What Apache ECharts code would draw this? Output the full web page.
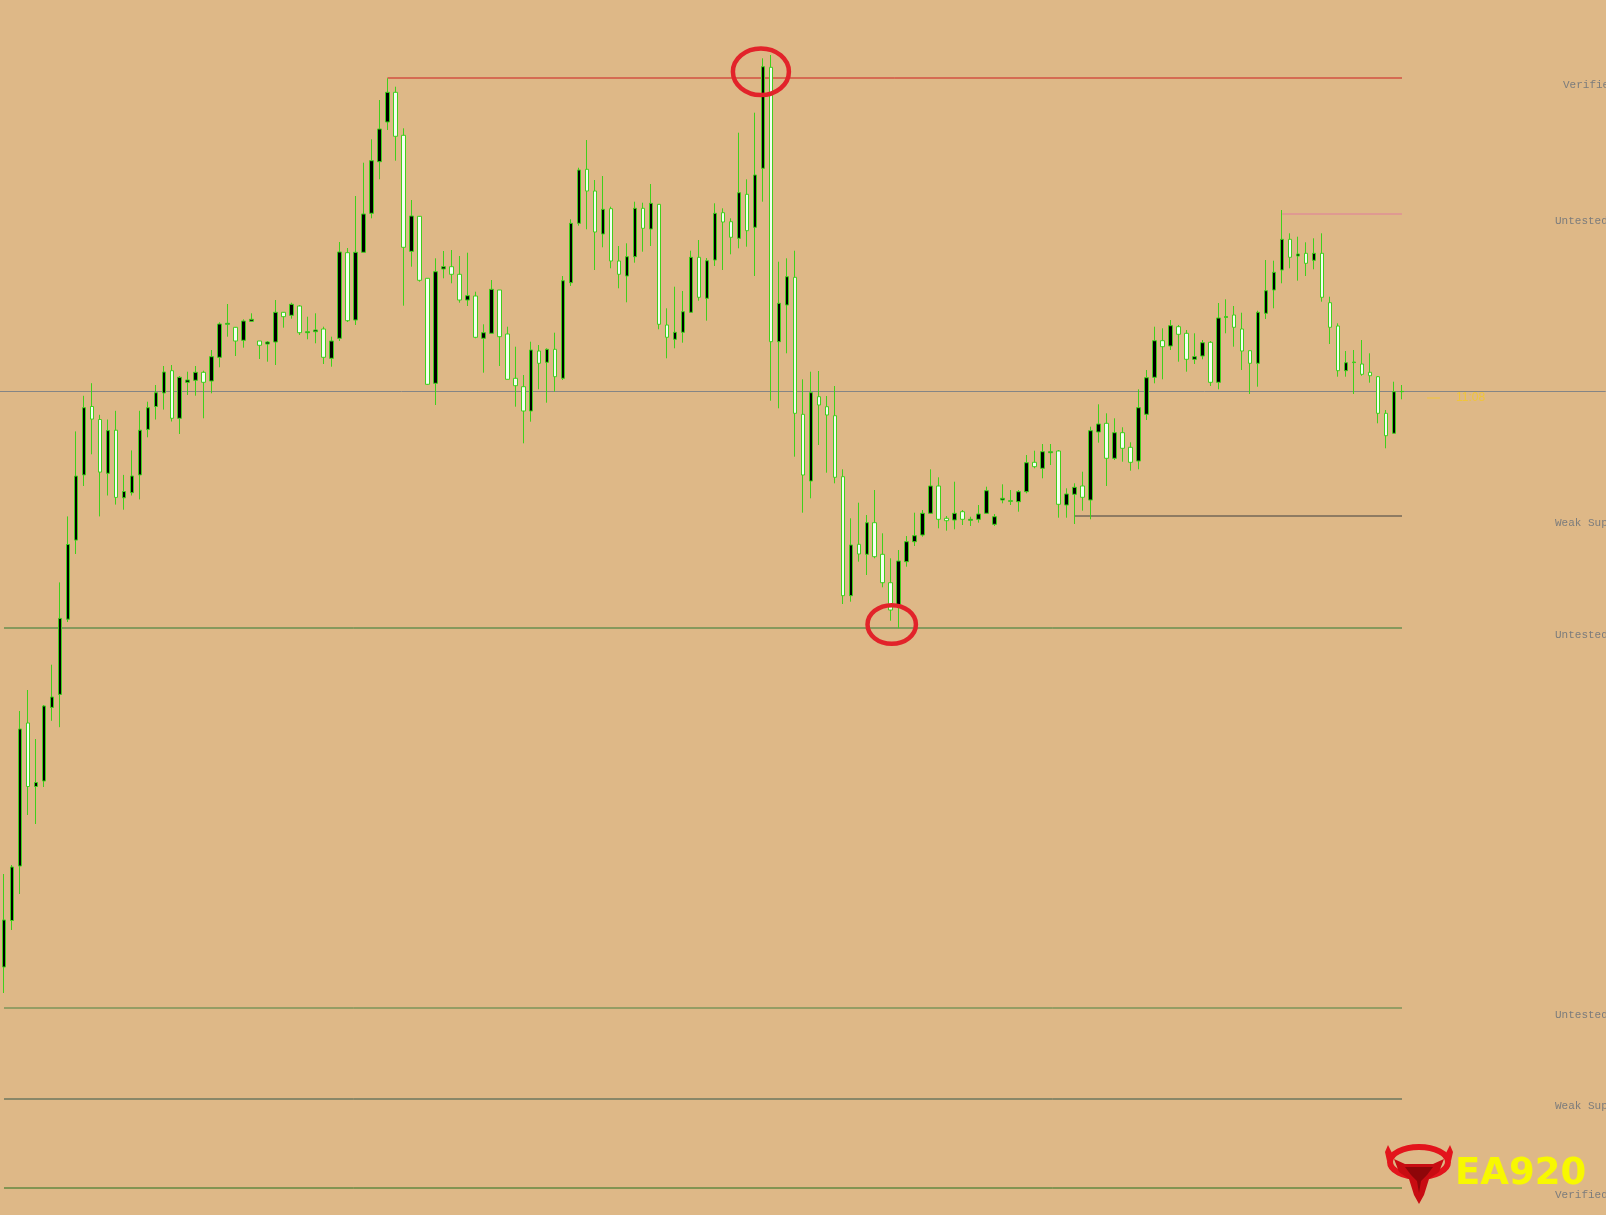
<!DOCTYPE html>
<html><head><meta charset="utf-8">
<script src="https://cdn.jsdelivr.net/npm/echarts@6/dist/echarts.min.js"></script>
<style>html,body{margin:0;padding:0;background:#DEB887;overflow:hidden}#chart{width:1606px;height:1215px;}</style>
</head><body><div id="chart"></div>
<script>
// ---- candle data (price units) ----
const opens = [
248,294.5,349,492,428.5,434,507.6,520.6,595.8,674.9,
740.1,808.5,795.5,741.7,784.8,717.2,722.3,740.1,785.6,808.5,
822,844.3,796.7,832.7,834.7,842.7,834,857.7,890.7,887.7,
874.7,893.7,874,871,873,902.7,899.7,909,882.3,883.3,
886,856.7,876.7,962.3,895,962.7,1001.7,1053.3,1093,1122.7,
1079.7,963.7,998.7,936.7,831.7,946,948.3,940.7,915,919,
876.7,881.7,925,881,836.7,828.3,804,864,852.7,865.7,
836.7,932.3,991.7,1045.7,1024,981,1006.3,954,939,958.3,
1006.7,986,1010.7,890,875.7,882.7,902.7,957.7,916.7,955,
1002.3,993.3,976.7,1020.7,987.7,1046.7,1147.7,873.3,910,937.7,
800.7,734,818.3,808.3,799.3,738.3,619.3,670.7,660.7,692.3,
660.7,632.3,608.3,653.3,673.3,680,701.7,729,696.7,695,
703.3,694.7,695.7,701.7,690.7,715,713.7,713.3,723.3,752.7,
746.7,762.3,764,710,720.7,729,715,783,791.7,756.7,
782.3,767.7,754,800.7,837.7,874.3,869,888.3,881.7,855.7,
859,872.7,832.7,897.5,900,886,864.3,851.7,901.7,925,
945,975.7,959,961.7,954.7,961.7,912.3,889,844.3,852.4,
851,842.7,838.3,801.7,781.7,823.3
];
const closes = [
295,348,486,428.5,432.5,509,518,596.6,670.5,738.9,
807.3,795.9,742.9,784.4,717.6,723.5,739,784.8,807.3,822.3,
843,796.7,837.7,835,842.7,832.7,858.3,891,891.7,874,
894,895.7,869.7,873,902.7,898.3,910.7,882.3,883.3,885,
857.7,874,963,894.3,962.7,1001,1054.3,1086,1122.7,1078.7,
967.7,999,934.7,830.7,943.3,948.3,940.7,915,919.3,877.7,
882.3,925.7,878.3,835.7,829.3,804,865,851.7,865.7,838.3,
934.3,991.7,1045,1024,983,1005.7,954,940.7,958.3,1006.7,
986.7,1011.7,890.7,877.7,882.7,903.3,957.7,917.7,954.3,1001.7,
993,977.7,1022.3,984.3,1040,1148.3,873.3,911.7,938.3,801.7,
740,822.3,810,800,737.7,619.3,670,661,692.3,658.3,
632.3,605,654,673.3,679.3,701.7,729,695.7,694.3,701.7,
695.7,695.7,701,724.3,698.3,716.7,714.3,723.3,752.3,748.3,
763.3,763.3,710.7,721,727.7,717.7,784.3,791,756.7,782.3,
766.7,752.7,807.3,837.3,874.3,868.3,889.3,880.7,855.7,858.3,
872.3,832.7,897,898.5,887.7,864,851.7,902.7,924.3,942.7,
975.7,957.7,961,951.7,961.7,917.7,887.7,844.3,852.3,853,
840.7,839.3,801.7,779.3,823.3,823.6
];
const lows = [
222,285,321,400,391,428,494.2,487.8,593,661,
729,760.7,698.6,719.5,710.4,705.3,719.5,715.6,777.7,795.5,
805.4,793.5,781,820,819.3,796.7,821.7,847.7,878.3,859,
867.3,893,856,853.3,850,887.3,896.3,880,875.7,871.7,
851,848.3,874,893,890,962.7,996.7,1035.7,1085,1054.3,
909.3,948.3,933.3,830,810,936.7,931.7,912.3,909,876.7,
842.3,881.7,849,835.7,808.3,771.7,793.3,825.7,812.3,823.3,
835,929,989.3,985.7,945,967.7,946.7,926.7,912.7,952.3,
963.3,969,885.7,856.7,866.7,872.3,902.3,914.3,894.3,949,
945,960.7,966.7,968.3,939,1013.3,814.3,806.7,861.7,758.3,
702.3,716.7,770,742.3,731.7,611,613.3,653.3,640,656.7,
627.7,594.3,586.7,648.3,669,678.3,701,686.7,684.3,685.7,
690,689,692.3,701,689,711.7,710,703.3,721.7,746.7,
736.7,750,697.3,697.3,691,704.3,695.7,772.3,729,755,
753.3,744.3,745.7,795,831.7,835.7,865,853.3,843.3,851,
855.7,829,825.7,881.7,868.3,845,821,828.3,896,906.7,
931.7,946.7,934.3,939,945.7,913.3,871,838.3,838.3,821,
839.3,832.3,791.7,766.7,781.7,815.7
];
const highs = [
341,350,504,525,476,510,550.3,632.6,698.6,783.6,
819.2,831.8,800.2,795.5,804.2,740.1,764.6,804.2,813.3,830,
849,850,839,843.3,849,844.3,865,892.7,911,888,
895.7,901.7,874,874,915,903,912.3,910,898.3,901.7,
888.3,878.3,973,967,1019,1052.3,1075.7,1115,1136.7,1128.3,
1086.7,1015,999,937,956.7,964,965,959,962.3,923.3,
890.7,935,925,888.3,868.3,840,873.3,870,866.7,882.3,
939,995.7,1047.3,1075,1035,1039,1008.3,969,971.7,1013.3,
1012.3,1031,1011,906.7,928.3,924,964.3,975,957,1011.7,
1006.7,996.7,1082.3,1035.7,1102.3,1156.7,1160,953.3,956.7,964.3,
835.7,843.3,844,819,829,745.7,696.7,712.3,700,725,
681.7,656.7,665,679,702.3,705,745.7,737.7,699,733.3,
705,698.3,710,728.3,701,730.7,725,725,760,764.3,
771,771,765,726.7,731.7,743.3,788.3,810.7,801.7,796.7,
787.7,772.7,825.7,845,888.3,886.7,895,890,885,881.7,
875,874,912,915.7,909,902.3,864.3,904.3,955,954.3,
1005,981.7,978.3,972.7,976.7,981.7,918.3,891.7,864,865,
875,861.7,839,805,833.3,830
];
// zone levels (price), their first bar index and their labels
const levelValues = [1137, 1001, 699, 587, 207, 116, 27];
const levelStart  = [48, 160, 134, 0, 0, 0, 0];
const levelNames  = ['Verified Resistance','Untested Resistance','Weak Support','Untested Support','Untested Support','Weak Support','Verified Support'];
const currentPrice = 824;
const timeLeft = '11:08';
const slotCount = 201; // bars + empty right-hand space
const lastBar = opens.length - 1;

// ---- styles ----
const levelColors = ['#cc1e1e','#e07c9c','#3e3e3e','#2f7a34','#4d8242','#35574a','#26701e'];
const labelX = [1563,1555,1555,1555,1555,1555,1555];
const bg = '#DEB887';

const categories = Array.from({length: slotCount}, (_, i) => String(i));
const candleData = opens.map((o, i) => [o, closes[i], lows[i], highs[i]]);

const chart = echarts.init(document.getElementById('chart'));
const series = [{
  type: 'candlestick',
  data: candleData,
  barWidth: 4,
  silent: true,
  itemStyle: {
    color: '#000000', color0: '#f4fff0',
    borderColor: '#3fd01c', borderColor0: '#3fd01c', borderWidth: 1
  },
  markLine: {
    silent: true, symbol: 'none', animation: false,
    label: {show: false},
    lineStyle: {color: '#858585', width: 1, type: 'solid'},
    data: [{yAxis: currentPrice}]
  },
  z: 5
}];
levelValues.forEach((v, k) => {
  series.push({
    type: 'line', silent: true, symbol: 'none', animation: false, z: 3,
    data: [[levelStart[k], v], [lastBar, v]],
    lineStyle: {color: levelColors[k], width: 1}
  });
});

chart.setOption({
  backgroundColor: bg,
  animation: false,
  grid: {left: -2.3, right: 0.3, top: 0, bottom: 0},
  xAxis: {type: 'category', data: categories, show: false, boundaryGap: true},
  yAxis: {type: 'value', min: 0, max: 1215, show: false, splitLine: {show: false}},
  series: series
});

const px = (i, v) => chart.convertToPixel({gridIndex: 0}, [i, v]);
const els = [];
levelValues.forEach((v, k) => {
  const p = px(0, v);
  els.push({type: 'text', silent: true, z: 10,
    style: {text: levelNames[k], x: labelX[k], y: p[1] + 7, fill: '#7c7c7c',
      font: '11px "Liberation Mono", "DejaVu Sans Mono", monospace', align: 'left', verticalAlign: 'middle'}});
});
const cp = px(0, currentPrice);
els.push({type: 'line', silent: true, z: 10, shape: {x1: 1427, y1: cp[1] + 7, x2: 1440, y2: cp[1] + 7},
  style: {stroke: '#f0c53a', lineWidth: 1}});
els.push({type: 'text', silent: true, z: 10,
  style: {text: timeLeft, x: 1456, y: cp[1] + 7, fill: '#f0c53a', font: '12px "Liberation Sans", Arial, sans-serif', align: 'left', verticalAlign: 'middle'}});

// circles marking the swing high and the swing low
const hi = px(95, 1143.3);
els.push({type: 'ellipse', silent: true, z: 12, shape: {cx: hi[0] - 2, cy: hi[1], rx: 28, ry: 23.3},
  style: {fill: 'none', stroke: '#e2232a', lineWidth: 4.5}});
const lo = px(111, 590.5);
els.push({type: 'ellipse', silent: true, z: 12, shape: {cx: lo[0] + 1, cy: lo[1], rx: 24.2, ry: 19.3},
  style: {fill: 'none', stroke: '#e2232a', lineWidth: 4.5}});

// logo: horned ring with a bull head
els.push({type: 'group', x: 1385, y: 1145, silent: true, z: 20, children: [
  {type: 'ellipse', shape: {cx: 34, cy: 17, rx: 29, ry: 15},
    style: {fill: 'none', stroke: '#e3141c', lineWidth: 6}},
  {type: 'polygon', shape: {points: [[2,16],[0,7],[3,0],[7,8],[10,13]]}, style: {fill: '#e3141c'}},
  {type: 'polygon', shape: {points: [[66,16],[68,7],[65,0],[61,8],[58,13]]}, style: {fill: '#e3141c'}},
  {type: 'polygon', shape: {points: [[9,14],[20,19],[48,19],[59,14],[54,27],[44,34],[39,50],[34,59],[29,50],[24,34],[14,27]]},
    style: {fill: '#c80c12'}},
  {type: 'polygon', shape: {points: [[20,22],[48,22],[42,30],[36,36],[34,48],[32,36],[26,30]]},
    style: {fill: '#8e0609'}}
]});
els.push({type: 'text', silent: true, z: 20,
  style: {text: 'EA920', x: 1455, y: 1174, fill: '#f8f800', font: 'bold 37px "DejaVu Sans", sans-serif', align: 'left', verticalAlign: 'middle'}});

chart.setOption({graphic: {elements: els}});
</script></body></html>
